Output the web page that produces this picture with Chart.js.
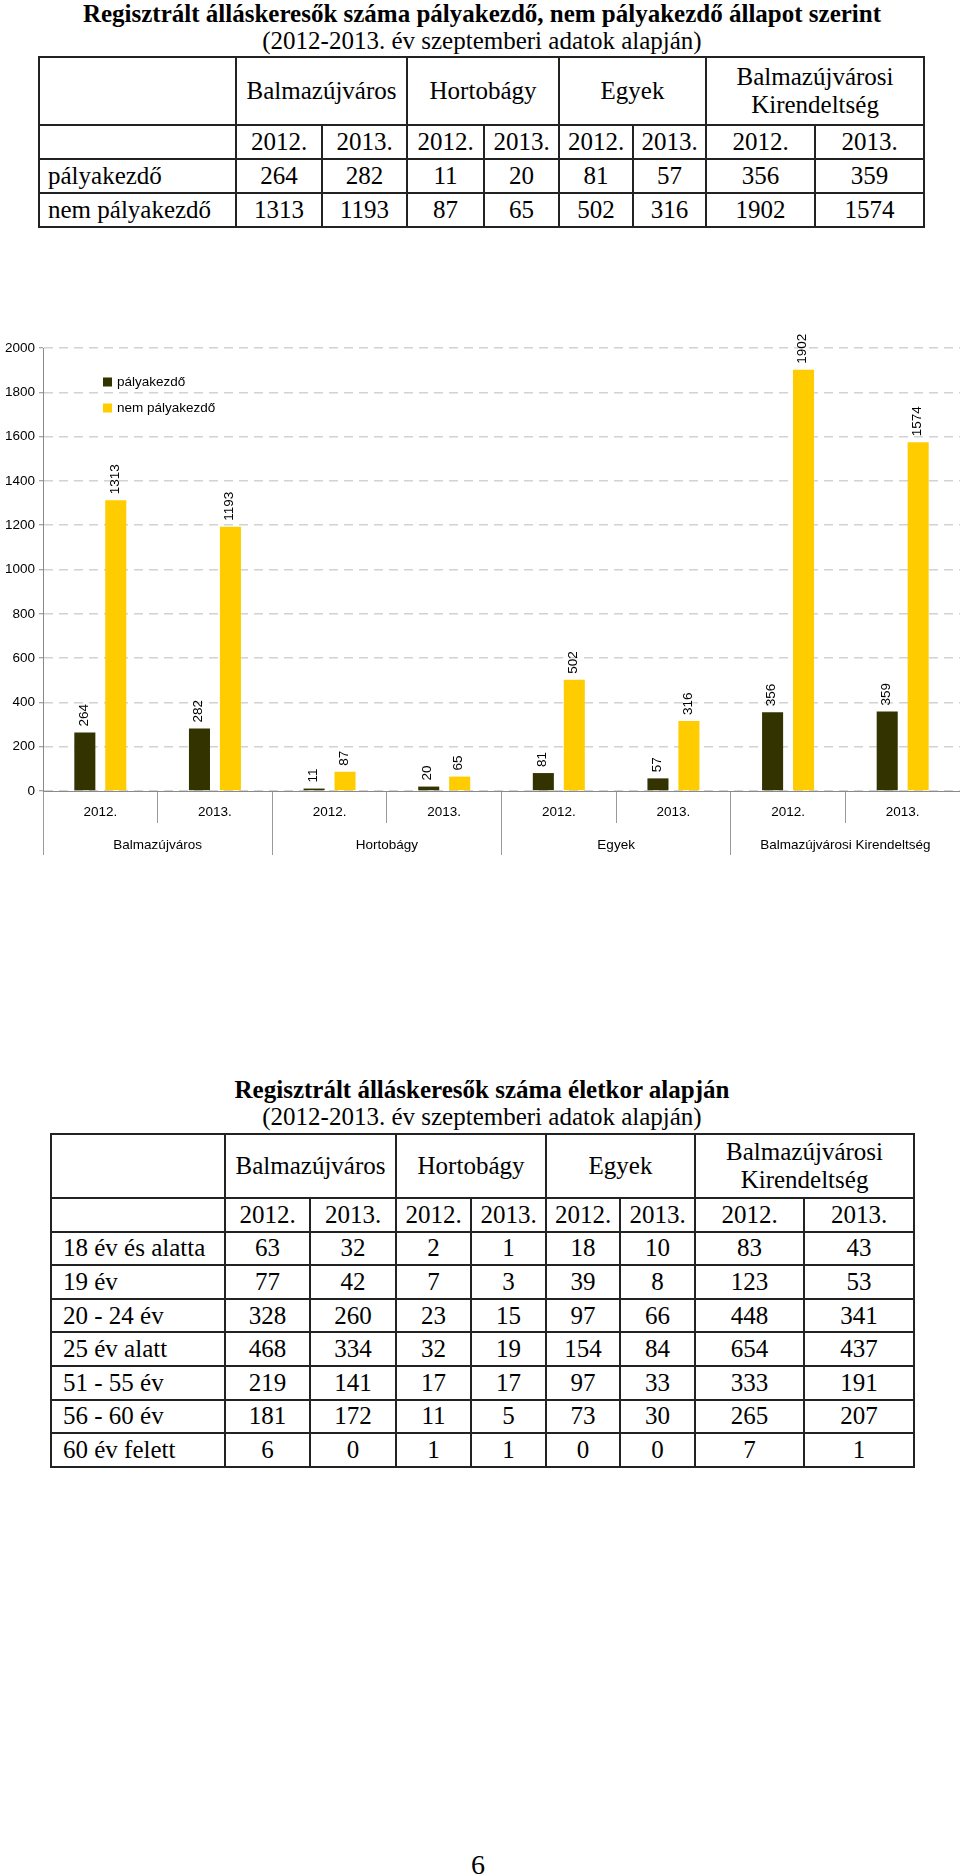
<!DOCTYPE html>
<html lang="hu">
<head>
<meta charset="utf-8">
<title>Regisztrált álláskeresők</title>
<script src="https://cdn.jsdelivr.net/npm/chart.js@4.4.0/dist/chart.umd.min.js"></script>
<style>
  html, body { margin: 0; padding: 0; background: #fff; }
  body { width: 960px; height: 1876px; position: relative; overflow: hidden;
         font-family: "Liberation Serif", "Times New Roman", serif; color: #000; }
  .cim { position: absolute; left: 0; width: 964px; text-align: center;
         font-size: 25px; line-height: 28px; white-space: nowrap; }
  .cim.b { font-weight: bold; }
  table.tabla { position: absolute; border-collapse: collapse; table-layout: fixed;
                font-size: 25px; line-height: 28px; }
  table.tabla td { border: 2px solid #222; padding: 0; text-align: center;
                   vertical-align: middle; white-space: nowrap; }
  table.tabla td.lbl { text-align: left; padding-left: 8px; }
  #t2 td.lbl { padding-left: 11px; }
  #chartBox { position: absolute; left: 0; top: 300px; width: 960px; height: 570px; }
  .oldal { position: absolute; left: 0; width: 956px; top: 1851px; text-align: center;
           font-size: 28px; line-height: 28px; }
</style>
</head>
<body>

<div class="cim b" style="top:0px">Regisztrált álláskeresők száma pályakezdő, nem pályakezdő állapot szerint</div>
<div class="cim" style="top:27px">(2012-2013. év szeptemberi adatok alapján)</div>
<table class="tabla" id="t1" style="left:38px; top:56px; width:885px"></table>

<div id="chartBox"><canvas id="palyakezdoChart" width="960" height="570"></canvas></div>

<div class="cim b" style="top:1076px">Regisztrált álláskeresők száma életkor alapján</div>
<div class="cim" style="top:1103px">(2012-2013. év szeptemberi adatok alapján)</div>
<table class="tabla" id="t2" style="left:50px; top:1133px; width:863px"></table>

<div class="oldal">6</div>

<script>
// adatok
var telepulesek = ['Balmazújváros', 'Hortobágy', 'Egyek', 'Balmazújvárosi Kirendeltség'];
var evek = ['2012.', '2013.', '2012.', '2013.', '2012.', '2013.', '2012.', '2013.'];
var palyakezdo = [264, 282, 11, 20, 81, 57, 356, 359];
var nemPalyakezdo = [1313, 1193, 87, 65, 502, 316, 1902, 1574];
var sorokNevei = ['pályakezdő', 'nem pályakezdő'];

var korcsoportok = ['18 év és alatta', '19 év', '20 - 24 év', '25 év alatt', '51 - 55 év', '56 - 60 év', '60 év felett'];
var kor18alatt = [63, 32, 2, 1, 18, 10, 83, 43];
var kor19 = [77, 42, 7, 3, 39, 8, 123, 53];
var kor20_24 = [328, 260, 23, 15, 97, 66, 448, 341];
var kor25alatt = [468, 334, 32, 19, 154, 84, 654, 437];
var kor51_55 = [219, 141, 17, 17, 97, 33, 333, 191];
var kor56_60 = [181, 172, 11, 5, 73, 30, 265, 207];
var kor60felett = [6, 0, 1, 1, 0, 0, 7, 1];

var yMax = 2000;
var yLepes = 200;

var szinSotet = '#333300';
var szinSarga = '#FFCC00';

// tablazat felepitese
function tablaRajz(id, oszlopok, fejMagassag, sorMagassag, nevek, sorok) {
  var html = '<colgroup>';
  for (var i = 0; i < oszlopok.length; i++) {
    html += '<col style="width:' + oszlopok[i] + 'px">';
  }
  html += '</colgroup>';

  html += '<tr style="height:' + fejMagassag + 'px"><td></td>';
  for (var i = 0; i < telepulesek.length; i++) {
    var nev = telepulesek[i].replace('i Kirendeltség', 'i<br>Kirendeltség');
    html += '<td colspan="2">' + nev + '</td>';
  }
  html += '</tr>';

  html += '<tr style="height:' + sorMagassag + 'px"><td></td>';
  for (var i = 0; i < evek.length; i++) {
    html += '<td>' + evek[i] + '</td>';
  }
  html += '</tr>';

  for (var r = 0; r < sorok.length; r++) {
    html += '<tr style="height:' + sorMagassag + 'px"><td class="lbl">' + nevek[r] + '</td>';
    for (var c = 0; c < sorok[r].length; c++) {
      html += '<td>' + sorok[r][c] + '</td>';
    }
    html += '</tr>';
  }
  document.getElementById(id).innerHTML = html;
}

tablaRajz('t1', [197, 86, 85, 77, 75, 74, 73, 109, 109], 68, 34,
          sorokNevei, [palyakezdo, nemPalyakezdo]);
tablaRajz('t2', [174, 85, 86, 75, 75, 74, 75, 109, 110], 64, 33.6,
          korcsoportok, [kor18alatt, kor19, kor20_24, kor25alatt, kor51_55, kor56_60, kor60felett]);

var betuCsalad = '"Liberation Sans", Arial, sans-serif';
var betu = { family: betuCsalad, size: 13.5 };

// ertek cimkek az oszlopok felett, elforgatva
var ertekCimkek = {
  id: 'ertekCimkek',
  afterDatasetsDraw: function(chart) {
    var ctx = chart.ctx;
    ctx.save();
    ctx.font = '13.5px ' + betuCsalad;
    ctx.fillStyle = '#000';
    ctx.textAlign = 'left';
    ctx.textBaseline = 'middle';
    chart.data.datasets.forEach(function(ds, i) {
      var meta = chart.getDatasetMeta(i);
      meta.data.forEach(function(bar, j) {
        ctx.save();
        ctx.translate(bar.x - 1, bar.y - 6);
        ctx.rotate(-Math.PI / 2);
        ctx.fillText(String(ds.data[j]), 0, 0);
        ctx.restore();
      });
    });
    ctx.restore();
  }
};

// jelmagyarazat a rajzterulet belsejeben
var belsoJelmagyarazat = {
  id: 'belsoJelmagyarazat',
  afterDraw: function(chart) {
    var ctx = chart.ctx;
    var area = chart.chartArea;
    ctx.save();
    ctx.font = '13.5px ' + betuCsalad;
    ctx.textAlign = 'left';
    ctx.textBaseline = 'middle';
    chart.data.datasets.forEach(function(ds, i) {
      var y = area.top + 34 + i * 26;
      var x = area.left + 60;
      ctx.fillStyle = ds.backgroundColor;
      ctx.fillRect(x, y - 4.5, 9, 9);
      ctx.fillStyle = '#000';
      ctx.fillText(ds.label, x + 14, y);
    });
    ctx.restore();
  }
};

// elvalaszto vonalak: az utolso (jobb szelso) nem latszik
function elvalasztoSzin(c) {
  return c.type === 'tick' ? '#9a9a9a' : 'rgba(0,0,0,0)';
}

new Chart(document.getElementById('palyakezdoChart').getContext('2d'), {
  type: 'bar',
  data: {
    labels: evek,
    datasets: [
      { label: sorokNevei[0], data: palyakezdo, backgroundColor: szinSotet,
        categoryPercentage: 0.54, barPercentage: 0.68 },
      { label: sorokNevei[1], data: nemPalyakezdo, backgroundColor: szinSarga,
        categoryPercentage: 0.54, barPercentage: 0.68 }
    ]
  },
  options: {
    responsive: false,
    animation: false,
    devicePixelRatio: 1,
    layout: { padding: { top: 48, right: 0, bottom: 15, left: 0 } },
    plugins: {
      legend: { display: false },
      tooltip: { enabled: false }
    },
    scales: {
      x: {
        type: 'category',
        position: 'bottom',
        weight: 0,
        offset: true,
        grid: { display: true, drawOnChartArea: false, offset: true, tickLength: 32,
                color: elvalasztoSzin, tickColor: elvalasztoSzin, lineWidth: 1 },
        border: { display: true, color: '#8a8a8a', width: 1 },
        ticks: { color: '#000', font: betu, padding: -19, autoSkip: false, maxRotation: 0 },
        afterFit: function(scale) { scale.height = 32; }
      },
      x2: {
        type: 'category',
        position: 'bottom',
        weight: 1,
        labels: telepulesek,
        offset: true,
        grid: { display: true, drawOnChartArea: false, offset: true, tickLength: 32,
                color: elvalasztoSzin, tickColor: elvalasztoSzin, lineWidth: 1 },
        border: { display: false },
        ticks: { color: '#000', font: betu, padding: -18, autoSkip: false, maxRotation: 0 },
        afterFit: function(scale) { scale.height = 32; }
      },
      y: {
        min: 0,
        max: yMax,
        ticks: { stepSize: yLepes, color: '#000', font: betu, padding: 4,
                 callback: function(v) { return String(v); } },
        grid: { color: '#d2d2d2', lineWidth: 1.5, tickLength: 4, tickColor: '#8a8a8a',
                tickBorderDash: [], tickWidth: 1 },
        border: { display: true, color: '#8a8a8a', width: 1, dash: [9, 6] },
        afterFit: function(scale) { scale.width = 43; }
      }
    }
  },
  plugins: [ertekCimkek, belsoJelmagyarazat]
});
</script>
</body>
</html>
